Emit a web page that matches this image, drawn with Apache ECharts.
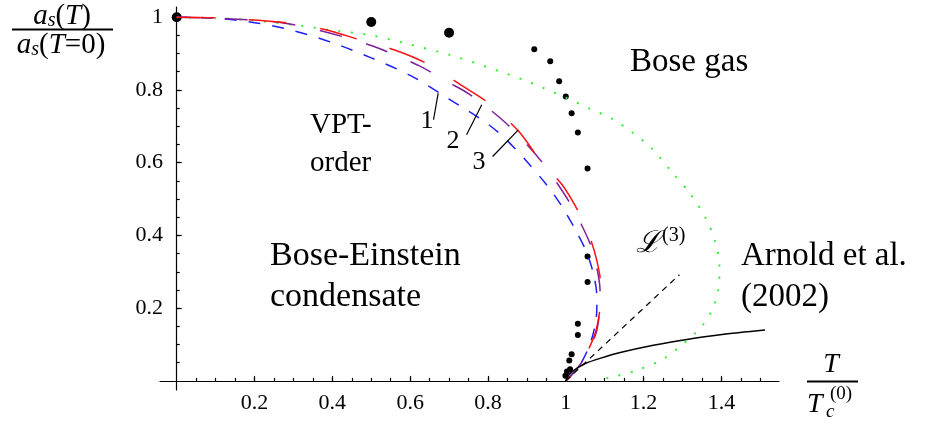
<!DOCTYPE html>
<html>
<head>
<meta charset="utf-8">
<style>
  html, body { margin: 0; padding: 0; background: #fff; }
  #main { width: 926px; height: 426px; }
</style>
<script src="https://cdn.jsdelivr.net/npm/echarts@6/dist/echarts.min.js"></script>
</head>
<body>
<div id="main"></div>
<script>
// tick values and labels
const xTicks = [0.2, 0.4, 0.6, 0.8, 1, 1.2, 1.4];
const xTickLabels = ['0.2', '0.4', '0.6', '0.8', '1', '1.2', '1.4'];
const yTicks = [0.2, 0.4, 0.6, 0.8, 1];
const yTickLabels = ['0.2', '0.4', '0.6', '0.8', '1'];

// lattice / Monte Carlo points (large and small dots)
const bigDots = [[0, 1], [0.5, 0.987], [0.7, 0.957]];
const smallDots = [
  [0.919, 0.912], [0.96, 0.879], [0.983, 0.824], [1.0, 0.782], [1.015, 0.736],
  [1.031, 0.683], [1.056, 0.584], [1.056, 0.342], [1.056, 0.272], [1.031, 0.157],
  [1.031, 0.126], [1.015, 0.073], [1.009, 0.056], [1.011, 0.032], [1.003, 0.026],
  [0.999, 0.014]
];

// ideal Bose gas boundary (green dotted)
const boseGas = [
  [0, 1], [0.15, 0.995], [0.3, 0.979], [0.4, 0.964], [0.5, 0.95], [0.6, 0.925],
  [0.7, 0.897], [0.8, 0.862], [0.9, 0.824], [1.0, 0.779], [1.06, 0.749], [1.12, 0.72],
  [1.17, 0.684], [1.22, 0.64], [1.27, 0.578], [1.32, 0.514], [1.36, 0.447],
  [1.385, 0.38], [1.395, 0.31], [1.392, 0.25], [1.378, 0.2], [1.352, 0.153],
  [1.3, 0.1], [1.25, 0.06], [1.19, 0.032], [1.124, 0.012], [1.085, 0.004]
];

// VPT orders 1, 2, 3
const vpt1 = [
  [0, 1], [0.1, 0.997], [0.2, 0.985], [0.3, 0.963], [0.4, 0.93], [0.5, 0.888],
  [0.6, 0.84], [0.7, 0.775], [0.8, 0.706], [0.85, 0.66], [0.9, 0.603], [0.95, 0.54],
  [0.99, 0.48], [1.03, 0.405], [1.055, 0.35], [1.072, 0.29], [1.08, 0.23],
  [1.078, 0.17], [1.065, 0.11], [1.045, 0.06], [1.022, 0.025], [1.0, 0]
];
const vpt2 = [
  [0, 1], [0.13, 0.996], [0.27, 0.985], [0.38, 0.96], [0.5, 0.922], [0.62, 0.868],
  [0.7, 0.82], [0.75, 0.79], [0.8, 0.75], [0.85, 0.705], [0.9, 0.65], [0.94, 0.6],
  [0.98, 0.54], [1.01, 0.49], [1.04, 0.43], [1.065, 0.37], [1.08, 0.31],
  [1.088, 0.25], [1.087, 0.2], [1.08, 0.14], [1.062, 0.09], [1.04, 0.05],
  [1.02, 0.022], [1.0, 0]
];
const vpt3 = [
  [0, 1], [0.1, 0.998], [0.27, 0.986], [0.38, 0.966], [0.47, 0.938], [0.56, 0.91],
  [0.64, 0.874], [0.73, 0.814], [0.8, 0.765], [0.88, 0.685], [0.94, 0.597],
  [0.99, 0.54], [1.03, 0.47], [1.06, 0.4], [1.08, 0.33], [1.09, 0.26], [1.088, 0.2],
  [1.078, 0.14], [1.06, 0.09], [1.04, 0.05], [1.02, 0.02], [1.0, 0]
];

// L^(3) and Arnold et al. (2002)
const l3Line = [[1, 0], [1.292, 0.292]];
const arnold = [
  [1, 0], [1.005, 0.012], [1.015, 0.024], [1.03, 0.036], [1.05, 0.048], [1.088, 0.062],
  [1.14, 0.078], [1.225, 0.098], [1.311, 0.114], [1.397, 0.127], [1.512, 0.14]
];

// pointer strokes for the "1", "2", "3" labels
const pointers = [
  [[0.66, 0.718], [0.672, 0.791]],
  [[0.745, 0.677], [0.784, 0.759]],
  [[0.812, 0.617], [0.878, 0.69]]
];

const serif = '"Liberation Serif", "DejaVu Serif", serif';

function stepValues(step, from, to) {
  const out = [];
  for (let v = from; v <= to + 1e-9; v += step) out.push(Math.round(v * 100) / 100);
  return out;
}
const xMinor = stepValues(0.05, 0.05, 1.5);
const yMinor = stepValues(0.05, 0.05, 1.0);

function labelOf(ticks, labels) {
  return function (v) {
    const i = ticks.findIndex(t => Math.abs(t - v) < 1e-6);
    return i >= 0 ? labels[i] : '';
  };
}

var dom = document.getElementById('main');
var myChart = echarts.init(dom, null, { renderer: 'canvas' });

const axisCommon = { type: 'value', splitLine: { show: false } };
const fracRich = {
  i: { fontFamily: serif, fontStyle: 'italic', fontSize: 29, lineHeight: 30, verticalAlign: 'middle', color: '#000' },
  r: { fontFamily: serif, fontSize: 29, lineHeight: 30, verticalAlign: 'middle', color: '#000' },
  s: { fontFamily: serif, fontStyle: 'italic', fontSize: 20, lineHeight: 17, verticalAlign: 'bottom', color: '#000' }
};

var option = {
  animation: false,
  grid: { left: 160, right: 147, top: 7, bottom: 36, containLabel: false, outerBoundsMode: 'none' },
  xAxis: [
    Object.assign({}, axisCommon, {
      min: -0.043, max: 1.548, position: 'bottom',
      axisLine: { onZero: true, onZeroAxisIndex: 0, lineStyle: { color: '#000', width: 1.2 } },
      axisTick: { show: true, inside: true, length: 3, customValues: xMinor, lineStyle: { color: '#000', width: 1.2 } },
      // labels stay at the grid edge, not on zero
      axisLabel: { customValues: xTicks, formatter: labelOf(xTicks, xTickLabels), margin: 2,
        color: '#000', fontFamily: serif, fontSize: 22 }
    }),
    Object.assign({}, axisCommon, {
      min: -0.043, max: 1.548, position: 'bottom',
      axisLine: { show: false, onZero: true, onZeroAxisIndex: 1 },
      axisTick: { show: true, inside: true, length: 5, customValues: xTicks, lineStyle: { color: '#000', width: 1.2 } },
      axisLabel: { show: false }
    })
  ],
  yAxis: [
    Object.assign({}, axisCommon, {
      min: -0.025, max: 1.028, position: 'left',
      axisLine: { onZero: true, onZeroAxisIndex: 0, lineStyle: { color: '#000', width: 1.2 } },
      axisTick: { show: true, inside: true, length: 3, customValues: yMinor, lineStyle: { color: '#000', width: 1.2 } },
      axisLabel: { customValues: yTicks, formatter: labelOf(yTicks, yTickLabels), margin: -3,
        color: '#000', fontFamily: serif, fontSize: 22 }
    }),
    Object.assign({}, axisCommon, {
      min: -0.025, max: 1.028, position: 'left',
      axisLine: { show: false, onZero: true, onZeroAxisIndex: 1 },
      axisTick: { show: true, inside: true, length: 5, customValues: yTicks, lineStyle: { color: '#000', width: 1.2 } },
      axisLabel: { show: false }
    })
  ],
  series: [
    {
      name: 'Bose gas', type: 'line', data: boseGas, showSymbol: false, smooth: 0.3,
      lineStyle: { color: '#33ee33', width: 2, type: [2, 10.5], cap: 'butt' }
    },
    {
      name: 'VPT 1', type: 'line', data: vpt1, showSymbol: false, smooth: 0.3,
      lineStyle: { color: '#1f1fff', width: 1.5, type: [12, 12] }
    },
    {
      name: 'VPT 2', type: 'line', data: vpt2, showSymbol: false, smooth: 0.3,
      lineStyle: { color: '#80209a', width: 1.5, type: [23, 25] }
    },
    {
      name: 'VPT 3', type: 'line', data: vpt3, showSymbol: false, smooth: 0.3,
      lineStyle: { color: '#ff1010', width: 1.5, type: [38, 34] }
    },
    {
      name: 'L3', type: 'line', data: l3Line, showSymbol: false,
      lineStyle: { color: '#000', width: 1.2, type: [6, 5] }
    },
    {
      name: 'Arnold', type: 'line', data: arnold, showSymbol: false, smooth: 0.3,
      lineStyle: { color: '#000', width: 1.5 }
    }
  ].concat(pointers.map((seg, i) => ({
    name: 'pointer ' + (i + 1), type: 'line', data: seg, showSymbol: false,
    lineStyle: { color: '#000', width: 1.2 }
  }))).concat([
    {
      name: 'lattice small', type: 'scatter', data: smallDots, symbol: 'circle', symbolSize: 6,
      itemStyle: { color: '#000', opacity: 1 }
    },
    {
      name: 'lattice big', type: 'scatter', data: bigDots, symbol: 'circle', symbolSize: 10,
      itemStyle: { color: '#000', opacity: 1 }
    }
  ]),
  graphic: [
    // y-axis title fraction
    { type: 'text', x: 62, y: 16, style: {
      text: '{i|a}{s|s}{r|(}{i|T}{r|)}', align: 'center', verticalAlign: 'middle', rich: fracRich } },
    { type: 'line', shape: { x1: 12, y1: 29.5, x2: 113, y2: 29.5 }, style: { stroke: '#000', lineWidth: 2 } },
    { type: 'text', x: 61, y: 45, style: {
      text: '{i|a}{s|s}{r|(}{i|T}{r|=0)}', align: 'center', verticalAlign: 'middle', rich: fracRich } },
    // x-axis title fraction
    { type: 'text', x: 831, y: 365, style: { text: 'T', font: 'italic 28px ' + serif, fill: '#000', align: 'center', verticalAlign: 'middle' } },
    { type: 'line', shape: { x1: 807, y1: 381.5, x2: 858, y2: 381.5 }, style: { stroke: '#000', lineWidth: 2 } },
    { type: 'text', x: 807, y: 405, style: { text: 'T', font: 'italic 28px ' + serif, fill: '#000', align: 'left', verticalAlign: 'middle' } },
    { type: 'text', x: 826, y: 412, style: { text: 'c', font: 'italic 19px ' + serif, fill: '#000', align: 'left', verticalAlign: 'middle' } },
    { type: 'text', x: 830, y: 394, style: { text: '(0)', font: '19px ' + serif, fill: '#000', align: 'left', verticalAlign: 'middle' } },
    // annotations
    { type: 'text', x: 630, y: 62, style: { text: 'Bose gas', font: '33px ' + serif, fill: '#000', align: 'left', verticalAlign: 'middle' } },
    { type: 'text', x: 310, y: 125, style: { text: 'VPT-', font: '29px ' + serif, fill: '#000', align: 'left', verticalAlign: 'middle' } },
    { type: 'text', x: 310, y: 163, style: { text: 'order', font: '29px ' + serif, fill: '#000', align: 'left', verticalAlign: 'middle' } },
    { type: 'text', x: 427, y: 121, style: { text: '1', font: '26px ' + serif, fill: '#000', align: 'center', verticalAlign: 'middle' } },
    { type: 'text', x: 453, y: 141, style: { text: '2', font: '26px ' + serif, fill: '#000', align: 'center', verticalAlign: 'middle' } },
    { type: 'text', x: 479, y: 162, style: { text: '3', font: '26px ' + serif, fill: '#000', align: 'center', verticalAlign: 'middle' } },
    { type: 'text', x: 270, y: 256, style: { text: 'Bose-Einstein', font: '34px ' + serif, fill: '#000', align: 'left', verticalAlign: 'middle' } },
    { type: 'text', x: 270, y: 297, style: { text: 'condensate', font: '34px ' + serif, fill: '#000', align: 'left', verticalAlign: 'middle' } },
    { type: 'text', x: 741, y: 256, style: { text: 'Arnold et al.', font: '33px ' + serif, fill: '#000', align: 'left', verticalAlign: 'middle' } },
    { type: 'text', x: 741, y: 297, style: { text: '(2002)', font: '33px ' + serif, fill: '#000', align: 'left', verticalAlign: 'middle' } },
    { type: 'text', x: 636, y: 244, style: { text: 'ℒ', font: 'italic 30px ' + serif, fill: '#000', align: 'left', verticalAlign: 'middle' } },
    { type: 'text', x: 662, y: 236, style: { text: '(3)', font: '20px ' + serif, fill: '#000', align: 'left', verticalAlign: 'middle' } }
  ]
};

if (option && typeof option === 'object') {
  myChart.setOption(option);
}

window.addEventListener('resize', myChart.resize);
</script>
</body>
</html>
